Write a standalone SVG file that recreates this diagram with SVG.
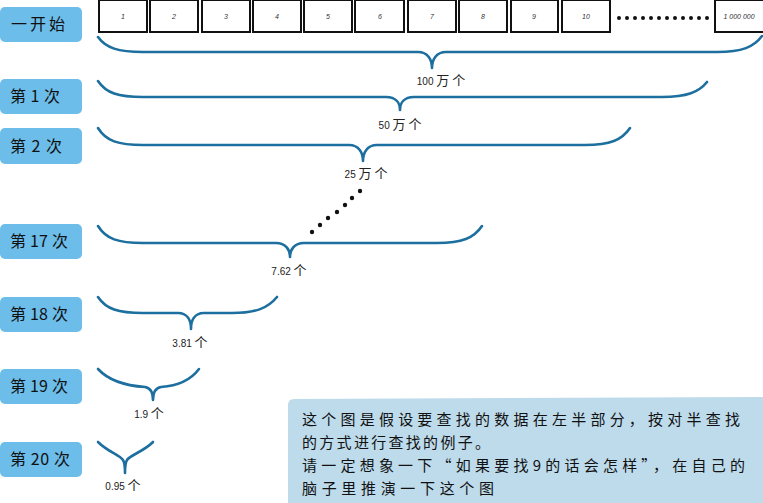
<svg xmlns="http://www.w3.org/2000/svg" width="763" height="503" viewBox="0 0 763 503">
<style>
.lab rect{fill:#6cbde9}
.lab text{font-family:"Noto Sans CJK SC","Noto Sans",sans-serif;font-size:16px;fill:#111}
.cell rect{fill:#fff;stroke:#111;stroke-width:2}
.cell text{font-family:"Liberation Sans",sans-serif;font-size:7px;fill:#333;text-anchor:middle;font-style:italic}
.brace path{fill:none;stroke:#1d6f9f;stroke-width:2.6;stroke-linecap:round;stroke-linejoin:round}
.cnt{font-family:"Liberation Sans","Noto Sans CJK SC",sans-serif;font-size:10px;fill:#222;text-anchor:middle}
.cnt .z{font-family:"Noto Sans CJK SC",sans-serif;font-size:13px}
.note text{font-family:"Noto Sans CJK SC",sans-serif;font-size:15px;fill:#111}
</style>
<rect width="763" height="503" fill="#fff"/>
<g id="labels" class="lab">
<g id="lab-start"><rect x="0" y="7" width="82" height="35" rx="5"/><text x="11" y="30" textLength="54" lengthAdjust="spacing">一开始</text></g>
<g id="lab-1"><rect x="0" y="79" width="82" height="35" rx="5"/><text x="10" y="102" textLength="50" lengthAdjust="spacing">第 1 次</text></g>
<g id="lab-2"><rect x="0" y="128" width="82" height="36" rx="5"/><text x="10" y="152" textLength="52" lengthAdjust="spacing">第 2 次</text></g>
<g id="lab-17"><rect x="0" y="224" width="82" height="35" rx="5"/><text x="10" y="247" textLength="58" lengthAdjust="spacing">第 17 次</text></g>
<g id="lab-18"><rect x="0" y="297" width="82" height="35" rx="5"/><text x="10" y="320" textLength="58" lengthAdjust="spacing">第 18 次</text></g>
<g id="lab-19"><rect x="0" y="369" width="82" height="35" rx="5"/><text x="10" y="392" textLength="58" lengthAdjust="spacing">第 19 次</text></g>
<g id="lab-20"><rect x="0" y="442" width="82" height="35" rx="5"/><text x="10" y="465" textLength="60" lengthAdjust="spacing">第 20 次</text></g>
</g>
<g id="cells" class="cell">
<g id="c1"><rect x="99" y="0" width="48" height="32"/><text x="123" y="19">1</text></g>
<g id="c2"><rect x="150" y="0" width="48" height="32"/><text x="174" y="19">2</text></g>
<g id="c3"><rect x="202" y="0" width="48" height="32"/><text x="226" y="19">3</text></g>
<g id="c4"><rect x="253" y="0" width="48" height="32"/><text x="277" y="19">4</text></g>
<g id="c5"><rect x="304" y="0" width="48" height="32"/><text x="328" y="19">5</text></g>
<g id="c6"><rect x="355" y="0" width="49" height="32"/><text x="380" y="19">6</text></g>
<g id="c7"><rect x="408" y="0" width="48" height="32"/><text x="432" y="19">7</text></g>
<g id="c8"><rect x="459" y="0" width="48" height="32"/><text x="483" y="19">8</text></g>
<g id="c9"><rect x="511" y="0" width="47" height="32"/><text x="534" y="19">9</text></g>
<g id="c10"><rect x="562" y="0" width="48" height="32"/><text x="586" y="19">10</text></g>
<g id="cdots" fill="#111"><circle cx="619" cy="18" r="2"/><circle cx="627" cy="18" r="2"/><circle cx="635" cy="18" r="2"/><circle cx="643" cy="18" r="2"/><circle cx="651" cy="18" r="2"/><circle cx="659" cy="18" r="2"/><circle cx="667" cy="18" r="2"/><circle cx="675" cy="18" r="2"/><circle cx="683" cy="18" r="2"/><circle cx="691" cy="18" r="2"/><circle cx="699" cy="18" r="2"/><circle cx="707" cy="18" r="2"/></g>
<g id="cN"><rect x="715" y="0" width="50" height="32"/><text x="739" y="19">1 000 000</text></g>
</g>
<g id="connectors" class="brace">
<path id="b0" d="M98 37 C106 48 118 52 143 52 L418 52 C428 52 432 60 432 68 C432 60 436 52 446 52 L717 52 C742 52 754 47 762 36"/>
<path id="b1" d="M98 81 C106 93 118 97 143 97 L386 97 C396 97 400 103 400 110 C400 103 404 97 414 97 L662 97 C687 97 699 92 707 82"/>
<path id="b2" d="M98 128 C106 141 118 145 143 145 L349 145 C359 145 363 153 363 161 C363 153 367 145 377 145 L585 145 C610 145 622 140 630 128"/>
<path id="b17" d="M98 226 C106 239 118 243 143 243 L276 243 C286 243 290 250 290 257 C290 250 294 243 304 243 L437 243 C462 243 474 238 482 226"/>
<path id="b18" d="M98 297 C106 309 118 313 143 313 L178 313 C188 313 191 321 191 329 C191 321 194 313 204 313 L232 313 C256 313 268 308 277 297"/>
<path id="b19" d="M98 369 C110 382 130 386 145 387 C151 388 153 393 153 400 C153 393 155 388 161 387 C176 386 190 381 199 369"/>
<path id="b20" d="M98 442 C108 452 120 455 123 460 C125 463 125 467 125 473 C125 467 125 463 127 460 C130 455 143 452 153 442"/>
</g>
<g id="dots" fill="#111">
<circle cx="360" cy="191" r="2.2"/><circle cx="352" cy="198" r="2.2"/><circle cx="345" cy="205" r="2.2"/><circle cx="337" cy="212" r="2.2"/><circle cx="328" cy="218" r="2.2"/><circle cx="320" cy="225" r="2.2"/><circle cx="312" cy="232" r="2.2"/>
</g>
<g id="counts" class="cnt">
<text id="t0" x="441" y="85">100 <tspan class="z">万 个</tspan></text>
<text id="t1" x="400" y="129">50 <tspan class="z">万 个</tspan></text>
<text id="t2" x="366" y="178">25 <tspan class="z">万 个</tspan></text>
<text id="t17" x="289" y="275">7.62 <tspan class="z">个</tspan></text>
<text id="t18" x="190" y="347">3.81 <tspan class="z">个</tspan></text>
<text id="t19" x="149" y="418">1.9 <tspan class="z">个</tspan></text>
<text id="t20" x="123" y="490">0.95 <tspan class="z">个</tspan></text>
</g>
<g id="note" class="note">
<path d="M294 399 L763 397 L763 503 L288 503 L288 405 Q288 399 294 399 Z" fill="#bddbeb"/>
<text x="302" y="425" textLength="438" lengthAdjust="spacing">这个图是假设要查找的数据在左半部分，按对半查找</text>
<text x="302" y="448" textLength="188" lengthAdjust="spacing">的方式进行查找的例子。</text>
<text x="302" y="471" textLength="443" lengthAdjust="spacing">请一定想象一下“如果要找9的话会怎样”，在自己的</text>
<text x="302" y="494" textLength="192" lengthAdjust="spacing">脑子里推演一下这个图</text>
</g>
</svg>
